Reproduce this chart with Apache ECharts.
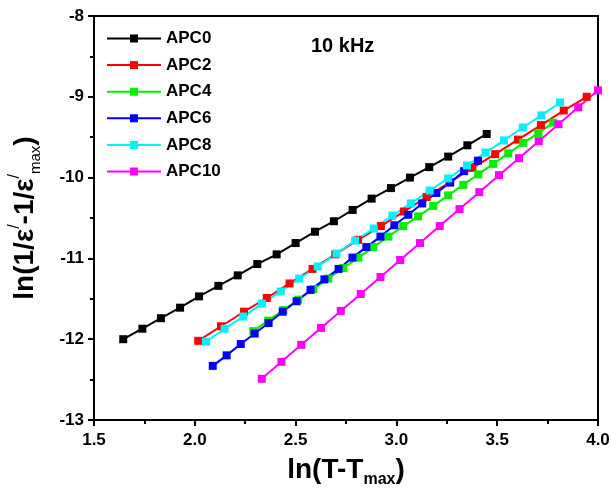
<!DOCTYPE html>
<html>
<head>
<meta charset="utf-8">
<script src="https://cdn.jsdelivr.net/npm/echarts@6/dist/echarts.min.js"></script>
<style>
html, body { margin: 0; padding: 0; background: #fff; }
#main { width: 611px; height: 494px; }
</style>
</head>
<body>
<div id="main"></div>
<script>
var names = ['APC0', 'APC2', 'APC4', 'APC6', 'APC8', 'APC10'];
var colors = ['#000000', '#ff0000', '#00ee00', '#0000ff', '#00f0ff', '#ff00ff'];

var apc0X = [1.645, 1.740, 1.832, 1.927, 2.021, 2.117, 2.213, 2.310, 2.406, 2.500, 2.596, 2.690, 2.783, 2.877, 2.973, 3.067, 3.163, 3.257, 3.352, 3.448];
var apc0Y = [-12.00, -11.87, -11.74, -11.61, -11.47, -11.34, -11.21, -11.07, -10.95, -10.81, -10.67, -10.54, -10.40, -10.26, -10.13, -10.00, -9.87, -9.74, -9.60, -9.46];

var apc2X = [2.017, 2.130, 2.244, 2.357, 2.470, 2.584, 2.697, 2.810, 2.923, 3.037, 3.150, 3.263, 3.377, 3.490, 3.603, 3.717, 3.830, 3.944];
var apc2Y = [-12.02, -11.84, -11.66, -11.49, -11.31, -11.13, -10.95, -10.77, -10.60, -10.42, -10.24, -10.06, -9.88, -9.71, -9.53, -9.35, -9.17, -9.00];

var apc4X = [2.290, 2.364, 2.439, 2.513, 2.588, 2.662, 2.736, 2.811, 2.885, 2.960, 3.034, 3.108, 3.183, 3.257, 3.332, 3.406, 3.480, 3.555, 3.629, 3.704, 3.778];
var apc4Y = [-11.90, -11.77, -11.64, -11.51, -11.38, -11.25, -11.12, -10.99, -10.86, -10.73, -10.60, -10.48, -10.35, -10.22, -10.09, -9.96, -9.83, -9.70, -9.57, -9.45, -9.32];

var apc6X = [2.089, 2.158, 2.228, 2.297, 2.366, 2.436, 2.505, 2.574, 2.643, 2.713, 2.782, 2.851, 2.921, 2.990, 3.059, 3.128, 3.198, 3.267, 3.336, 3.405];
var apc6Y = [-12.33, -12.20, -12.06, -11.93, -11.80, -11.66, -11.53, -11.39, -11.26, -11.13, -10.99, -10.86, -10.73, -10.59, -10.46, -10.32, -10.19, -10.06, -9.92, -9.79];

var apc8X = [2.056, 2.148, 2.241, 2.333, 2.426, 2.518, 2.610, 2.703, 2.795, 2.888, 2.980, 3.072, 3.165, 3.257, 3.350, 3.442, 3.534, 3.627, 3.719, 3.812];
var apc8Y = [-12.03, -11.87, -11.72, -11.56, -11.41, -11.25, -11.10, -10.94, -10.78, -10.63, -10.47, -10.32, -10.16, -10.01, -9.85, -9.69, -9.54, -9.38, -9.23, -9.07];

var apc10X = [2.332, 2.430, 2.528, 2.626, 2.724, 2.823, 2.921, 3.019, 3.117, 3.215, 3.313, 3.411, 3.509, 3.608, 3.706, 3.804, 3.902, 4.000];
var apc10Y = [-12.49, -12.28, -12.07, -11.86, -11.65, -11.44, -11.23, -11.02, -10.81, -10.60, -10.39, -10.18, -9.97, -9.76, -9.55, -9.34, -9.13, -8.92];

var xTicks = [1.5, 2.0, 2.5, 3.0, 3.5, 4.0];
var yTicks = [-13, -12, -11, -10, -9, -8];

var allX = [apc0X, apc2X, apc4X, apc6X, apc8X, apc10X];
var allY = [apc0Y, apc2Y, apc4Y, apc6Y, apc8Y, apc10Y];

function zip(xs, ys) {
	return xs.map(function (x, i) { return [x, ys[i]]; });
}

var font = 'Liberation Sans, Arial, sans-serif';

var myChart = echarts.init(document.getElementById('main'));
var option = {
	animation: false,
	backgroundColor: '#fff',
	title: {
		text: '10 kHz',
		left: 306,
		top: 31,
		textStyle: { fontFamily: font, fontWeight: 'bold', fontSize: 20, color: '#000' }
	},
	legend: {
		data: names,
		orient: 'vertical',
		left: 101,
		top: 25,
		itemWidth: 54,
		itemHeight: 10,
		itemGap: 9.6,
		textStyle: { fontFamily: font, fontWeight: 'bold', fontSize: 17, color: '#000' }
	},
	grid: {
		left: 94,
		right: 13,
		top: 16,
		bottom: 74,
		outerBoundsMode: 'none',
		containLabel: false,
		show: true,
		borderColor: '#000',
		borderWidth: 2
	},
	xAxis: {
		type: 'value',
		min: xTicks[0],
		max: xTicks[xTicks.length - 1],
		interval: 0.5,
		name: 'ln(T-T{sub|max})',
		nameLocation: 'middle',
		nameGap: 32,
		nameMoveOverlap: false,
		nameTextStyle: {
			fontFamily: font, fontWeight: 'bold', fontSize: 28, color: '#000', lineHeight: 36,
			rich: {
				sub: { fontFamily: font, fontWeight: 'bold', fontSize: 16, verticalAlign: 'bottom', lineHeight: 16, color: '#000' }
			}
		},
		axisLine: { lineStyle: { color: '#000', width: 2 } },
		axisTick: { length: 6, lineStyle: { color: '#000', width: 2 } },
		minorTick: { show: true, splitNumber: 2, length: 4, lineStyle: { color: '#000', width: 2 } },
		splitLine: { show: false },
		axisLabel: {
			fontFamily: font, fontWeight: 'bold', fontSize: 17, color: '#000', margin: 12,
			formatter: function (v) { return v.toFixed(1); }
		}
	},
	yAxis: {
		type: 'value',
		min: yTicks[0],
		max: yTicks[yTicks.length - 1],
		interval: 1,
		name: 'ln(1/ε{sup|/}-1/ε{sup|/}{sub|max})',
		nameLocation: 'middle',
		nameRotate: 90,
		nameGap: 51,
		nameMoveOverlap: false,
		nameTextStyle: {
			fontFamily: font, fontWeight: 'bold', fontSize: 28, color: '#000', lineHeight: 36,
			rich: {
				sup: { fontFamily: font, fontWeight: 'normal', fontSize: 16, verticalAlign: 'top', lineHeight: 16, color: '#000' },
				sub: { fontFamily: font, fontWeight: 'normal', fontSize: 15, verticalAlign: 'bottom', lineHeight: 15, color: '#000' }
			}
		},
		axisLine: { lineStyle: { color: '#000', width: 2 } },
		axisTick: { length: 6, lineStyle: { color: '#000', width: 2 } },
		minorTick: { show: true, splitNumber: 2, length: 4, lineStyle: { color: '#000', width: 2 } },
		splitLine: { show: false },
		axisLabel: { fontFamily: font, fontWeight: 'bold', fontSize: 17, color: '#000', margin: 10 }
	},
	series: names.map(function (n, i) {
		return {
			name: n,
			type: 'line',
			data: zip(allX[i], allY[i]),
			symbol: 'rect',
			symbolSize: 8,
			color: colors[i],
			lineStyle: { width: 2, color: colors[i] },
			itemStyle: { color: colors[i] },
			clip: false
		};
	})
};
myChart.setOption(option);
window.onresize = myChart.resize;
</script>
</body>
</html>
